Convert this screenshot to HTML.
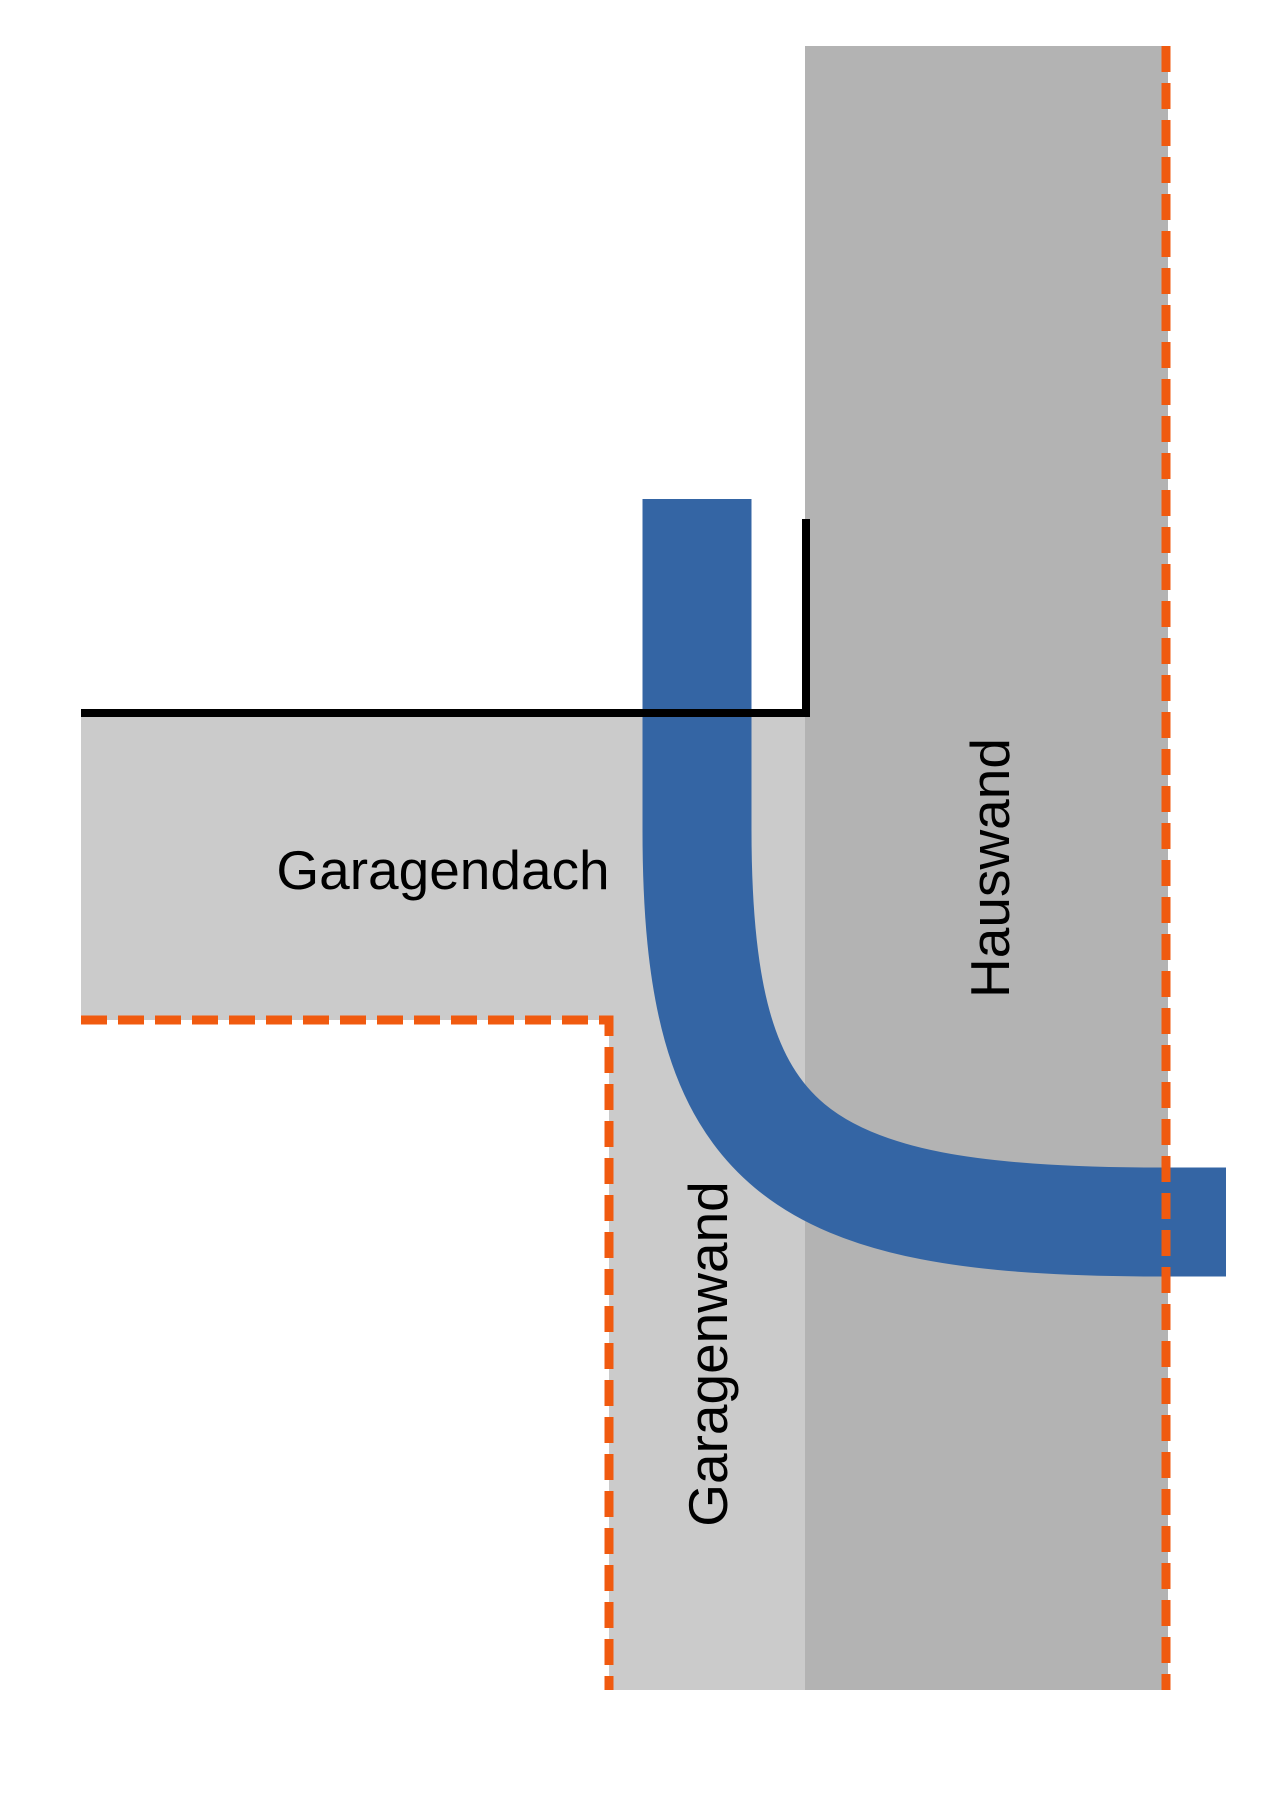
<!DOCTYPE html>
<html><head><meta charset="utf-8"><style>html,body{margin:0;padding:0;background:#fff}svg{display:block}</style></head>
<body>
<svg width="1280" height="1802" viewBox="0 0 1280 1802" xmlns="http://www.w3.org/2000/svg">
<rect x="0" y="0" width="1280" height="1802" fill="#fff"/>
<rect x="805" y="46" width="363" height="1644" fill="#b3b3b3"/>
<rect x="81" y="713" width="724" height="307" fill="#cbcbcb"/>
<rect x="609" y="1020" width="196" height="670" fill="#cbcbcb"/>
<path d="M697,499 V830 C697,1150 790,1222 1160,1222 H1226" fill="none" stroke="#3465a4" stroke-width="109"/>
<path d="M81,713 H806 V519" fill="none" stroke="#000" stroke-width="8"/>
<path d="M81,1020 H609 V1690" fill="none" stroke="#f05a0f" stroke-width="9" stroke-dasharray="26 11"/>
<line x1="1166" y1="46" x2="1166" y2="1690" stroke="#f05a0f" stroke-width="9" stroke-dasharray="26 11"/>
<g font-family="Liberation Sans, sans-serif" font-size="55" fill="#000">
<text x="443" y="870" text-anchor="middle" dominant-baseline="central">Garagendach</text>
<text transform="translate(990,868) rotate(-90)" text-anchor="middle" dominant-baseline="central">Hauswand</text>
<text transform="translate(708,1354) rotate(-90)" text-anchor="middle" dominant-baseline="central">Garagenwand</text>
</g>
</svg>
</body></html>
